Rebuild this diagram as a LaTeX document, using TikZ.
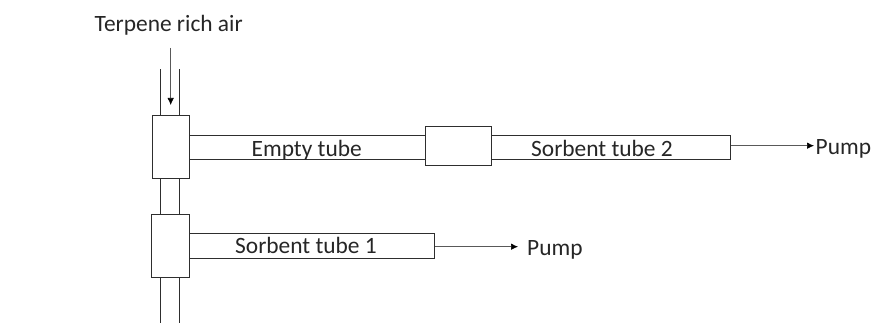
\documentclass[tikz,border=0pt]{standalone}
\usepackage{fontspec}
\setmainfont{Carlito}
\usetikzlibrary{arrows.meta}
\definecolor{linec}{HTML}{2E2E2E}
\tikzset{
  part/.style={draw=linec,line width=1pt,fill=white,inner sep=0pt,minimum width=#1},
  tubeside/.style={draw=linec,line width=1pt},
  flow/.style={draw=black!65,line width=0.7pt,-{Latex[length=7pt,width=6.5pt,black]}},
  lbl/.style={font=\fontsize{23.4}{26}\selectfont,text=black!85,inner sep=0pt,anchor=base},
  lblw/.style={font=\fontsize{23.4}{26}\selectfont,text=black!85,inner sep=0pt,anchor=base west}
}
\begin{document}
\begin{tikzpicture}[x=1pt,y=-1pt]
\useasboundingbox (0,0) rectangle (873,323);
% tubes (drawn first so junction boxes cover their ends)
\node[part=236pt,minimum height=23.6pt] (empty) at (307.5,147.5) {};
\node[part=239pt,minimum height=24.4pt] (sorb2) at (610.5,147.5) {};
\node[part=245pt,minimum height=24.7pt] (sorb1) at (311.5,245.7) {};
% junction boxes
\node[part=37.4pt,minimum height=63pt] (box1) at (171,147.5) {};
\node[part=66pt,minimum height=38.7pt] (box2) at (458.3,145.7) {};
\node[part=37.4pt,minimum height=62.7pt] (box3) at (170.4,245.7) {};
% free tube ends
\coordinate (inL) at (160.7,69.5);
\coordinate (inR) at (179.7,69.5);
\coordinate (outL) at (160.7,323);
\coordinate (outR) at (179.7,323);
\coordinate (arrowTop) at (170.7,48);
\coordinate (arrowEnd) at (170.7,105);
\coordinate (pump2End) at (814,145.7);
\coordinate (pump1End) at (518,246.7);
% vertical tube walls
\draw[tubeside] (inL) -- (inL |- box1.north);
\draw[tubeside] (inR) -- (inR |- box1.north);
\draw[tubeside] (inL |- box1.south) -- (inL |- box3.north);
\draw[tubeside] (inR |- box1.south) -- (inR |- box3.north);
\draw[tubeside] (outL |- box3.south) -- (outL);
\draw[tubeside] (outR |- box3.south) -- (outR);
% flow arrows
\draw[flow] (arrowTop) -- (arrowEnd);
\draw[flow] (sorb2.east |- pump2End) -- (pump2End);
\draw[flow] (sorb1.east |- pump1End) -- (pump1End);
% labels
\node[lblw] (air) at (94.5,32) {Terpene rich air};
\node[lbl] (emptyL) at (306.7,156.5) {Empty tube};
\node[lbl] (sorb2L) at (602,156.5) {Sorbent tube 2};
\node[lbl] (sorb1L) at (306,254) {Sorbent tube 1};
\node[lblw] (pump2) at (815.5,155) {Pump};
\node[lblw] (pump1) at (527,255) {Pump};
\end{tikzpicture}
\end{document}
